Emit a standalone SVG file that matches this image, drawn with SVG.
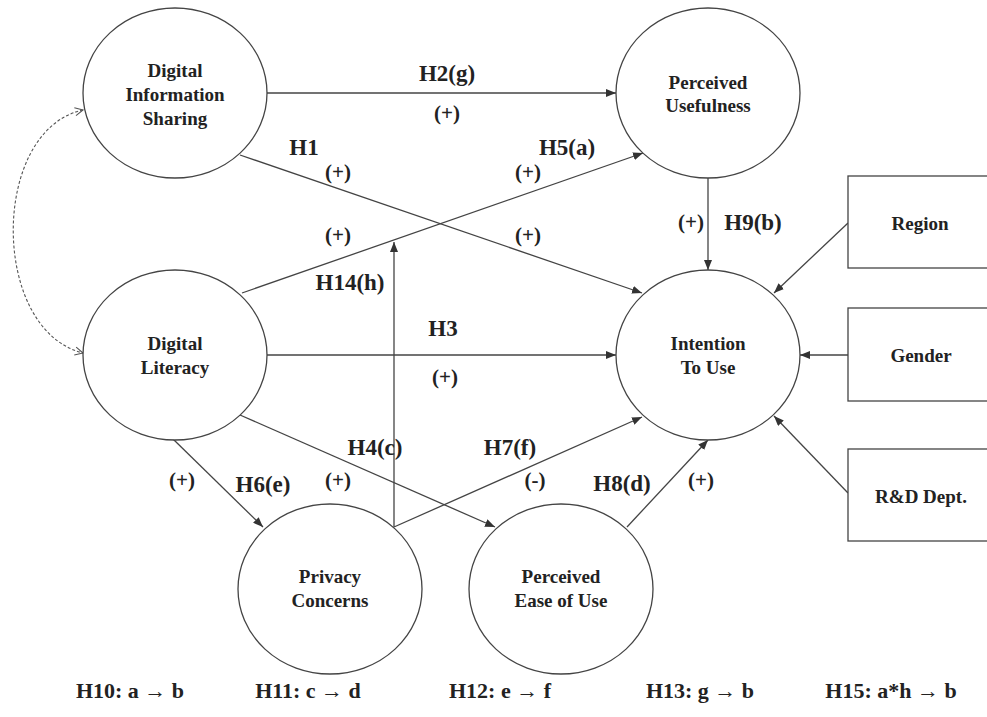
<svg xmlns="http://www.w3.org/2000/svg" width="987" height="717" viewBox="0 0 987 717">
<defs>
<style>
.node ellipse,.node rect{fill:#fff;stroke:#444;stroke-width:1.3}
text{font-family:'Liberation Serif','DejaVu Serif',serif;font-weight:bold;fill:#222;text-anchor:middle;dominant-baseline:central}
.nt{font-size:19px}
.lbl{font-size:23px}
.sg{font-size:21px}
.bt{font-size:22px}
.c{stroke:#444;stroke-width:1.3;fill:none;marker-end:url(#ah)}
.d{stroke:#555;stroke-width:1.1;fill:none;stroke-dasharray:3 2;marker-start:url(#oh);marker-end:url(#oh)}
</style>
<marker id="ah" viewBox="0 0 10 8" refX="10" refY="4" markerWidth="10" markerHeight="8" markerUnits="userSpaceOnUse" orient="auto">
<path d="M0,0 L10,4 L0,8 Z" fill="#333"/>
</marker>
<marker id="oh" viewBox="0 0 10 10" refX="9" refY="5" markerWidth="10" markerHeight="10" markerUnits="userSpaceOnUse" orient="auto-start-reverse">
<path d="M1,1 L9,5 L1,9" fill="none" stroke="#555" stroke-width="1.1"/>
</marker>
</defs>
<rect width="987" height="717" fill="#fff"/>
<g id="connectors">
<line class="c" x1="267" y1="93" x2="616" y2="93"/>
<line class="c" x1="240" y1="155" x2="642" y2="293"/>
<line class="c" x1="242" y1="293" x2="643" y2="153"/>
<line class="c" x1="708" y1="178" x2="708" y2="270"/>
<line class="c" x1="267" y1="355" x2="616" y2="355"/>
<line class="c" x1="848" y1="223" x2="774" y2="293"/>
<line class="c" x1="848" y1="355" x2="800" y2="355"/>
<line class="c" x1="848" y1="493" x2="774" y2="416"/>
<line class="c" x1="173" y1="439" x2="263" y2="527"/>
<line class="c" x1="240" y1="415" x2="495" y2="527"/>
<line class="c" x1="394" y1="527" x2="394" y2="242"/>
<line class="c" x1="394" y1="527" x2="642" y2="417"/>
<line class="c" x1="627" y1="527" x2="708" y2="440"/>
<path class="d" d="M83,110 C-10,130 -10,330 83,353"/>
</g>
<g id="dis" class="node"><ellipse cx="175" cy="93" rx="92" ry="85"/><text class="nt" x="175" y="70">Digital</text><text class="nt" x="175" y="94">Information</text><text class="nt" x="175" y="118">Sharing</text></g>
<g id="dl" class="node"><ellipse cx="175" cy="355" rx="92" ry="85"/><text class="nt" x="175" y="343">Digital</text><text class="nt" x="175" y="367">Literacy</text></g>
<g id="pu" class="node"><ellipse cx="708" cy="93" rx="92" ry="85"/><text class="nt" x="708" y="82">Perceived</text><text class="nt" x="708" y="105">Usefulness</text></g>
<g id="itu" class="node"><ellipse cx="708" cy="355" rx="92" ry="85"/><text class="nt" x="708" y="343">Intention</text><text class="nt" x="708" y="367">To Use</text></g>
<g id="pc" class="node"><ellipse cx="330" cy="589" rx="92" ry="85"/><text class="nt" x="330" y="576">Privacy</text><text class="nt" x="330" y="600">Concerns</text></g>
<g id="peou" class="node"><ellipse cx="561" cy="589" rx="92" ry="85"/><text class="nt" x="561" y="576">Perceived</text><text class="nt" x="561" y="600">Ease of Use</text></g>
<g id="region" class="node"><rect x="848" y="176" width="150" height="92"/><text class="nt" x="920" y="223">Region</text></g>
<g id="gender" class="node"><rect x="848" y="308" width="150" height="93"/><text class="nt" x="921" y="355">Gender</text></g>
<g id="rd" class="node"><rect x="848" y="449" width="150" height="92"/><text class="nt" x="921" y="496">R&amp;D Dept.</text></g>
<g id="labels">
<text class="lbl" x="447" y="73">H2(g)</text>
<text class="sg" x="447" y="113">(+)</text>
<text class="lbl" x="304" y="147">H1</text>
<text class="sg" x="338" y="172">(+)</text>
<text class="lbl" x="567" y="147">H5(a)</text>
<text class="sg" x="528" y="172">(+)</text>
<text class="sg" x="338" y="235">(+)</text>
<text class="sg" x="528" y="235">(+)</text>
<text class="lbl" x="350" y="282">H14(h)</text>
<text class="sg" x="691" y="222">(+)</text>
<text class="lbl" x="753" y="222">H9(b)</text>
<text class="lbl" x="443" y="328">H3</text>
<text class="sg" x="445" y="377">(+)</text>
<text class="lbl" x="375" y="447">H4(c)</text>
<text class="lbl" x="510" y="447">H7(f)</text>
<text class="sg" x="182" y="480">(+)</text>
<text class="lbl" x="263" y="484">H6(e)</text>
<text class="sg" x="338" y="480">(+)</text>
<text class="sg" x="535" y="480">(-)</text>
<text class="lbl" x="622" y="483">H8(d)</text>
<text class="sg" x="701" y="480">(+)</text>
</g>
<g id="legend">
<text class="bt" x="130" y="690">H10: a → b</text>
<text class="bt" x="308" y="690">H11: c → d</text>
<text class="bt" x="500" y="690">H12: e → f</text>
<text class="bt" x="700" y="690">H13: g → b</text>
<text class="bt" x="891" y="690">H15: a*h → b</text>
</g>
</svg>
